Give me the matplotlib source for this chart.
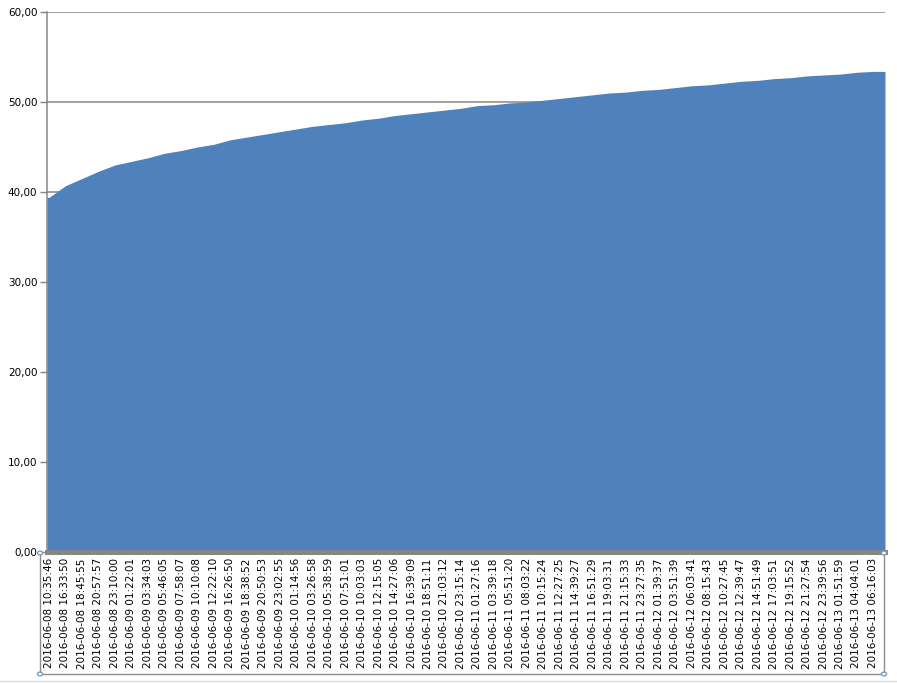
import numpy as np
import matplotlib.pyplot as plt
from matplotlib.lines import Line2D
from matplotlib.patches import Circle

# tick labels (one per labelled category)
labels = [
    '2016-06-08 10:35:46', '2016-06-08 16:33:50', '2016-06-08 18:45:55', '2016-06-08 20:57:57',
    '2016-06-08 23:10:00', '2016-06-09 01:22:01', '2016-06-09 03:34:03', '2016-06-09 05:46:05',
    '2016-06-09 07:58:07', '2016-06-09 10:10:08', '2016-06-09 12:22:10', '2016-06-09 16:26:50',
    '2016-06-09 18:38:52', '2016-06-09 20:50:53', '2016-06-09 23:02:55', '2016-06-10 01:14:56',
    '2016-06-10 03:26:58', '2016-06-10 05:38:59', '2016-06-10 07:51:01', '2016-06-10 10:03:03',
    '2016-06-10 12:15:05', '2016-06-10 14:27:06', '2016-06-10 16:39:09', '2016-06-10 18:51:11',
    '2016-06-10 21:03:12', '2016-06-10 23:15:14', '2016-06-11 01:27:16', '2016-06-11 03:39:18',
    '2016-06-11 05:51:20', '2016-06-11 08:03:22', '2016-06-11 10:15:24', '2016-06-11 12:27:25',
    '2016-06-11 14:39:27', '2016-06-11 16:51:29', '2016-06-11 19:03:31', '2016-06-11 21:15:33',
    '2016-06-11 23:27:35', '2016-06-12 01:39:37', '2016-06-12 03:51:39', '2016-06-12 06:03:41',
    '2016-06-12 08:15:43', '2016-06-12 10:27:45', '2016-06-12 12:39:47', '2016-06-12 14:51:49',
    '2016-06-12 17:03:51', '2016-06-12 19:15:52', '2016-06-12 21:27:54', '2016-06-12 23:39:56',
    '2016-06-13 01:51:59', '2016-06-13 04:04:01', '2016-06-13 06:16:03',
]

# values read at each labelled category
values = [
    39.4, 40.7, 41.5, 42.3, 43.0, 43.4, 43.8, 44.3, 44.6, 45.0,
    45.3, 45.8, 46.1, 46.4, 46.7, 47.0, 47.3, 47.5, 47.7, 48.0,
    48.2, 48.5, 48.7, 48.9, 49.1, 49.3, 49.6, 49.7, 49.9, 50.0,
    50.2, 50.4, 50.6, 50.8, 51.0, 51.1, 51.3, 51.4, 51.6, 51.8,
    51.9, 52.1, 52.3, 52.4, 52.6, 52.7, 52.9, 53.0, 53.1, 53.3,
    53.4,
]

yticks = [0, 10, 20, 30, 40, 50, 60]

W, H = 897, 683
fig = plt.figure(figsize=(W / 100, H / 100), dpi=100)
ax = fig.add_axes([47 / W, 131 / H, 838 / W, 540 / H])

blue = '#4F81BD'
grey = '#868686'

x = np.arange(len(values))
xmin, xmax = -0.12, 50.73
xs = np.r_[xmin, x, xmax]
ys = np.r_[values[0], values, values[-1]]

ax.set_axisbelow(True)
ax.yaxis.grid(True, color=grey, linewidth=1.1)
ax.fill_between(xs, 0, ys, color=blue, linewidth=0, zorder=3)

ax.set_xlim(xmin, xmax)
ax.set_ylim(0, 60)
ax.set_yticks(yticks)
ax.set_yticklabels(['%d,00' % v for v in yticks])

ax.set_xticks(x)
ax.set_xticklabels(labels, rotation=90, fontsize=7.5)
ax.tick_params(axis='x', length=0, pad=4.5)
ax.tick_params(axis='y', length=5, width=1, color=grey, labelsize=7.5, pad=2)

for s in ['top', 'right']:
    ax.spines[s].set_visible(False)
ax.spines['left'].set_color(grey)
ax.spines['left'].set_linewidth(1.1)
ax.spines['left'].set_zorder(4)
ax.spines['bottom'].set_color(grey)
ax.spines['bottom'].set_linewidth(3.6)
ax.spines['bottom'].set_zorder(4)

# selection box around the category axis
def px(xp, yp):
    return xp / W, 1 - yp / H

box_col = '#8C8C8C'
for (x0, y0), (x1, y1) in [((40, 553), (40, 674)), ((40, 674), (884, 674)), ((884, 553), (884, 674))]:
    a, b = px(x0, y0)
    c, d = px(x1, y1)
    fig.add_artist(Line2D([a, c], [b, d], color=box_col, linewidth=1))
for hx, hy in [(40, 553), (884, 553), (40, 674), (884, 674)]:
    a, b = px(hx, hy)
    fig.add_artist(Circle((a, b), 2.5 / W, transform=fig.transFigure, facecolor='white',
                          edgecolor='#7F9DB9', linewidth=1, zorder=5))

a, b = px(0, 681)
fig.add_artist(Line2D([a, 1], [b, b], color='#D9D9D9', linewidth=1))

fig.savefig('out.png', dpi=100)
